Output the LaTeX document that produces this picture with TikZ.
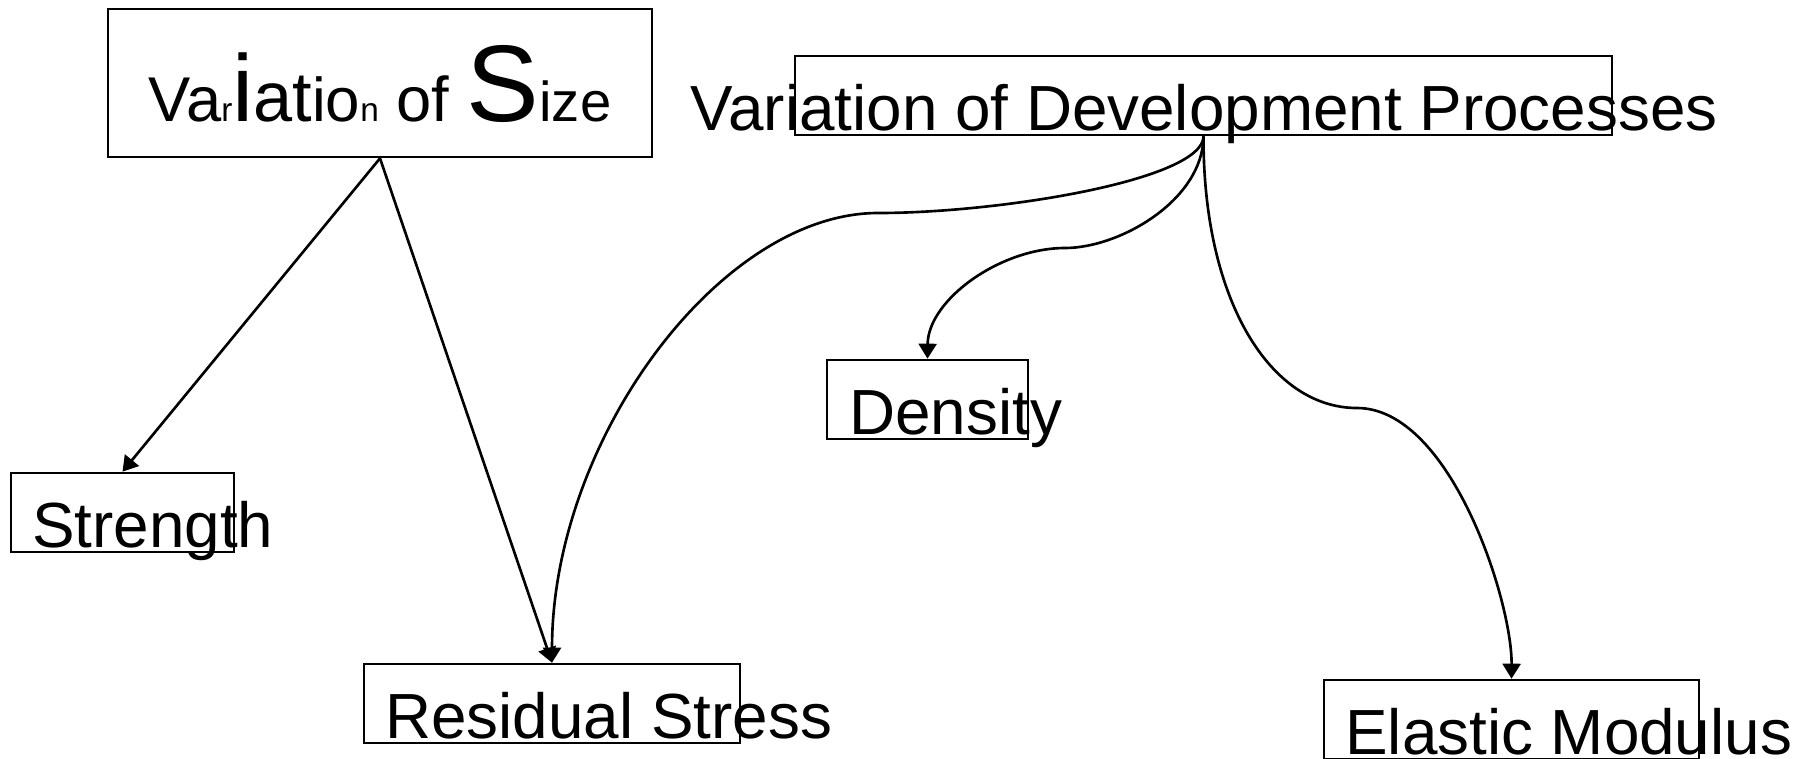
\documentclass[tikz,border=0pt]{standalone}
\usepackage{fontspec}
\setmainfont{Liberation Sans}
\usetikzlibrary{arrows.meta}
\newcommand{\szf}[1]{\fontsize{#1}{#1}\selectfont}

\begin{document}
\begin{tikzpicture}[line width=0.75pt,
    box/.style={draw, inner sep=0pt, minimum height=0.79cm},
    lbl/.style={inner sep=0pt, font=\szf{18.15}},
    arr/.style={-{Triangle[width=0.18cm,length=0.15cm]}}]
    \useasboundingbox (0,0) rectangle (17.99,7.58);
    \node (size) [box, minimum width=5.44cm, minimum height=1.48cm] at (3.80,6.75) {};
    \node (sizet) [inner sep=0pt, anchor=base] at (3.80,6.363)
        {{\szf{18}Va}{\szf{9.5}r}{\szf{27}i}{\szf{20}at}{\szf{17.6}io}{\szf{9.5}n}{\szf{18} of }{\szf{31}S}{\szf{16}ize}};
    \node (dev) [box, minimum width=8.17cm] at (12.035,6.625) {};
    \node (devt) [lbl, anchor=base] at (12.04,6.28) {Variation of Development Processes};
    \node (str) [box, minimum width=2.23cm] at (1.225,2.455) {};
    \node (strt) [lbl, anchor=base west] at (0.31,2.11) {Strength};
    \node (res) [box, minimum width=3.76cm] at (5.52,0.545) {};
    \node (rest) [lbl, anchor=base west] at (3.84,0.20) {Residual Stress};
    \node (dens) [box, minimum width=2.01cm] at (9.275,3.585) {};
    \node (denst) [lbl, anchor=base west] at (8.48,3.24) {Density};
    \node (elas) [box, minimum width=3.75cm] at (15.115,0.385) {};
    \node (elast) [lbl, anchor=base west] at (13.44,0.04) {Elastic Modulus};
    \draw[arr] (size.south) -- (str.north);
    \draw[arr] (size.south) -- (res.north);
    \draw[arr] (dev.south) .. controls (12.03,5.78) and (10.00,5.45) .. (8.78,5.45)
        .. controls (7.20,5.45) and (5.52,3.18) .. (res.north);
    \draw[arr] (dev.south) .. controls (12.03,5.58) and (11.20,5.10) .. (10.65,5.10)
        .. controls (10.00,5.10) and (9.28,4.58) .. (dens.north);
    \draw[arr] (dev.south) .. controls (12.03,4.58) and (12.70,3.50) .. (13.57,3.50)
        .. controls (14.50,3.50) and (15.12,1.58) .. (elas.north);
\end{tikzpicture}
\end{document}
